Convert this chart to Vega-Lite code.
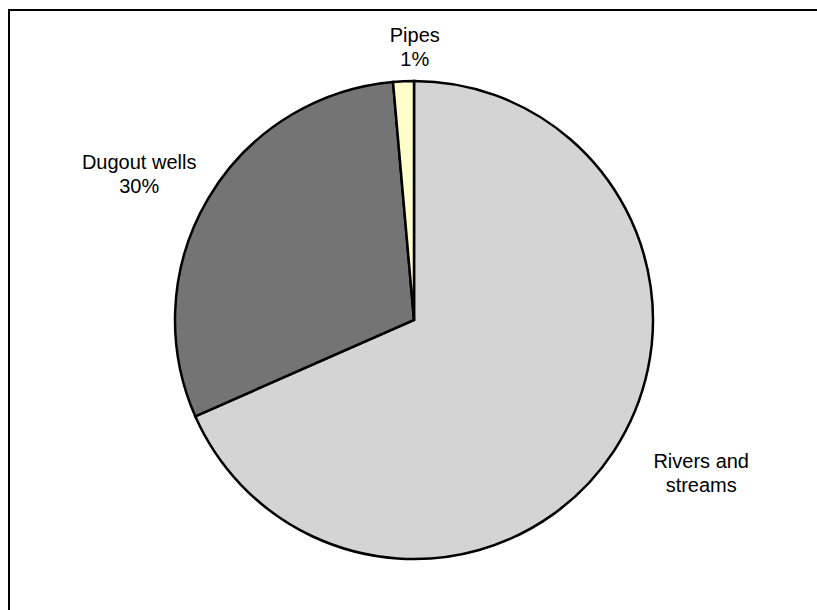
{
  "$schema": "https://vega.github.io/schema/vega-lite/v6.json",
  "autosize": {"type": "none"},
  "padding": {"left": 9, "top": 10, "right": 0, "bottom": 0},
  "width": 810,
  "height": 620,
  "background": "white",
  "view": {"stroke": "black", "strokeWidth": 2, "fill": "white"},
  "data": {
    "values": [
      {"source": "Rivers and streams", "share": 68.4, "ord": 1, "label": "Rivers and\nstreams"},
      {"source": "Dugout wells", "share": 30.2, "ord": 2, "label": "Dugout wells\n30%"},
      {"source": "Pipes", "share": 1.4, "ord": 3, "label": "Pipes\n1%"}
    ]
  },
  "encoding": {
    "theta": {"field": "share", "type": "quantitative", "stack": true},
    "order": {"field": "ord", "type": "quantitative"}
  },
  "layer": [
    {
      "mark": {"type": "arc", "outerRadius": 239, "stroke": "black", "strokeWidth": 2.5},
      "encoding": {
        "color": {
          "field": "source",
          "type": "nominal",
          "legend": null,
          "scale": {
            "domain": ["Rivers and streams", "Dugout wells", "Pipes"],
            "range": ["#d4d4d4", "#747474", "#ffffcc"]
          }
        }
      }
    },
    {
      "mark": {"type": "text", "radius": 325, "dx": 15, "dy": -36, "font": "Liberation Sans", "fontSize": 20, "lineBreak": "\n", "lineHeight": 24, "align": "center", "baseline": "middle", "color": "black"},
      "encoding": {
        "text": {"condition": {"test": "datum.source === 'Rivers and streams'", "field": "label"}, "value": ""}
      }
    },
    {
      "mark": {"type": "text", "radius": 310, "dx": -8, "dy": 1, "font": "Liberation Sans", "fontSize": 20, "lineBreak": "\n", "lineHeight": 24, "align": "center", "baseline": "middle", "color": "black"},
      "encoding": {
        "text": {"condition": {"test": "datum.source === 'Dugout wells'", "field": "label"}, "value": ""}
      }
    },
    {
      "mark": {"type": "text", "radius": 278, "dx": 13, "dy": -6, "font": "Liberation Sans", "fontSize": 20, "lineBreak": "\n", "lineHeight": 24, "align": "center", "baseline": "middle", "color": "black"},
      "encoding": {
        "text": {"condition": {"test": "datum.source === 'Pipes'", "field": "label"}, "value": ""}
      }
    }
  ]
}
